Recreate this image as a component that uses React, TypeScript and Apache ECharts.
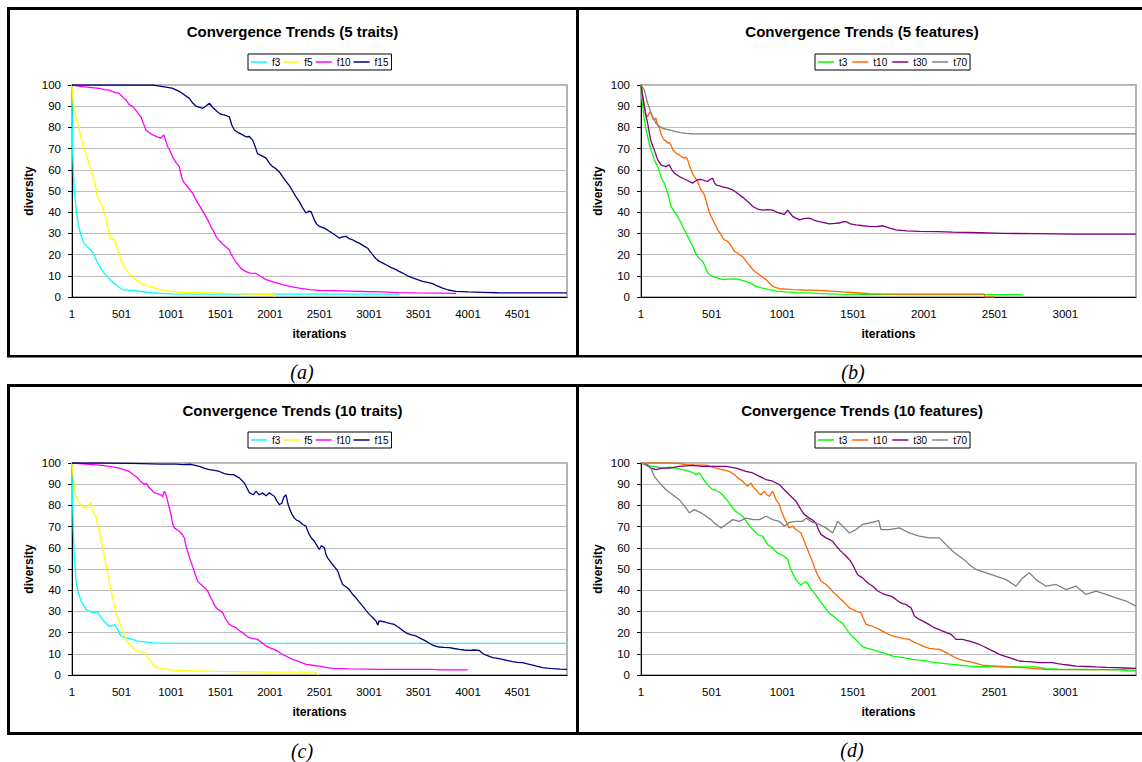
import React, { useEffect, useRef } from "react";
import * as echarts from "echarts";

type Pt = [number, number];

// ---------- labels ----------
const panelTitles = [
  "Convergence Trends (5 traits)",
  "Convergence Trends (5 features)",
  "Convergence Trends (10 traits)",
  "Convergence Trends (10 features)",
];
const panelCaptions = ["(a)", "(b)", "(c)", "(d)"];
const panelXMax = [5000, 3500, 5000, 3500]; // iterations shown (axis starts at iteration 1)
const xTickStep = 500;
const yMin = 0;
const yMax = 100;
const yTickStep = 10;
const xAxisName = "iterations";
const yAxisName = "diversity";

const traitNames = ["f3", "f5", "f10", "f15"];
const featureNames = ["t3", "t10", "t30", "t70"];
const traitColors = ["#00ffff", "#ffff00", "#ff00ff", "#000080"];
const featureColors = ["#00ff00", "#ff6600", "#800080", "#808080"];

// ---------- data: [iteration - 1, diversity] ----------
// (a) 5 traits
const a_f3: Pt[] = [[0,100],[5,70],[15,57],[25,49],[45,40],[65,34],[90,29],[120,25.5],[150,24],[180,22.5],[210,21],[250,17],[290,13.5],[330,11],[370,9],[410,7],[450,5.5],[490,4],[520,3.4],[600,3.1],[700,2.6],[800,2],[900,1.7],[1000,1.5],[1500,1.4],[2000,1.4],[2500,1.4],[3000,1.4],[3310,1.4]];
const a_f5: Pt[] = [[0,100],[13,90],[57,82],[108,72],[158,65],[192,60],[226,55],[259,47],[293,44],[327,40],[360,33],[394,27],[420,27.5],[444,25],[470,21],[500,17],[540,13],[570,11.5],[596,10],[646,8],[680,7],[714,6],[760,5.3],[815,4.7],[880,3.6],[949,3],[1030,2.5],[1118,2.2],[1300,2],[1455,1.9],[1700,1.5],[2040,1.1],[2046,0]];
const a_f10: Pt[] = [[0,100],[50,99.6],[108,99.2],[200,98.8],[276,98.4],[330,97.8],[377,97.6],[430,96.5],[478,96],[520,94],[545,93],[579,90.6],[610,90],[646,88],[670,86.5],[697,85],[720,82],[747,78.8],[780,77.5],[815,76.5],[860,75.5],[899,75],[926,76.5],[945,74],[966,71],[990,69],[1017,66],[1050,63.5],[1084,61.5],[1100,58],[1118,55],[1140,53.5],[1168,52],[1190,50.5],[1219,49],[1245,46.5],[1269,44.5],[1295,42.5],[1320,40.5],[1345,38.5],[1370,36.4],[1390,34.5],[1404,33],[1430,31],[1455,28.6],[1490,26.5],[1522,25],[1560,23.5],[1589,22.3],[1605,20.5],[1623,19],[1655,16.5],[1690,14.4],[1720,13],[1758,12],[1800,11.3],[1859,11.1],[1910,9.7],[1960,8.2],[2040,7],[2128,5.8],[2210,4.9],[2296,4.2],[2400,3.5],[2498,3.1],[2650,3],[2801,2.8],[2950,2.6],[3138,2.4],[3300,2.1],[3475,1.9],[3700,1.8],[3879,1.7]];
const a_f15: Pt[] = [[0,100],[300,100],[600,100],[815,100],[882,99.5],[949,99],[1010,98.5],[1084,97],[1130,95.5],[1185,93.7],[1220,91.5],[1253,90],[1290,89.5],[1320,89],[1350,90],[1387,91.4],[1420,89.5],[1455,88],[1490,86.5],[1522,86],[1560,85.5],[1589,85],[1615,81],[1640,78.8],[1680,77.5],[1724,76.5],[1760,75.5],[1791,75.7],[1825,74],[1850,71],[1875,67.5],[1910,66.8],[1960,65.5],[1995,63],[2027,61.5],[2060,60.5],[2094,59],[2130,56.5],[2162,54.5],[2195,52.5],[2229,50],[2260,47.5],[2296,45],[2330,42],[2364,39.6],[2395,40.5],[2414,40.3],[2448,36.4],[2470,34.5],[2498,33.3],[2550,32.5],[2599,31],[2650,29.5],[2700,27.8],[2740,28.5],[2768,28.6],[2800,27.5],[2835,27],[2870,26],[2902,25.4],[2950,24],[2987,23],[3010,21.5],[3037,20],[3070,18],[3104,16.8],[3140,16],[3172,15.2],[3220,14],[3273,12.9],[3300,12.2],[3340,11.3],[3390,10],[3441,9],[3490,8.2],[3542,7.4],[3590,6.9],[3643,6.3],[3690,5.2],[3744,4.2],[3800,3.3],[3879,2.7],[4000,2.4],[4148,2.2],[4300,2],[4485,1.9],[4700,1.9],[5000,1.9]];

// (b) 5 features
const b_t3: Pt[] = [[0,100],[3,95],[12,90],[24,83.5],[35,79],[47,75.7],[60,72],[71,69.4],[94,64.7],[118,61.5],[141,56.8],[152,55],[165,53.7],[189,49],[200,46],[212,42.7],[236,40.3],[259,38],[283,34.9],[306,31.7],[330,28.6],[365,23.9],[380,21.5],[401,19],[436,16.8],[455,14],[471,11.3],[507,9.7],[540,9],[577,8.2],[620,8.4],[672,8.5],[710,8],[742,7.4],[780,6.3],[813,5],[860,4.2],[907,3.5],[960,2.8],[1025,2.4],[1100,2.1],[1190,1.9],[1280,1.6],[1379,1.4],[1600,1.2],[1850,1.1],[2100,1.1],[2321,1.1],[2500,1.1],[2699,1.1]];
const b_t10: Pt[] = [[0,100],[10,96],[24,90],[35,86],[47,85],[60,87],[71,86.7],[85,84],[94,83.5],[105,84.5],[118,81],[130,80],[141,77],[155,75],[165,74],[180,73.5],[189,72.5],[200,73],[212,71.7],[225,69.5],[236,68.6],[255,67.5],[271,67],[290,66],[306,65.5],[318,66],[330,64.7],[342,62],[354,60],[366,58],[377,56.8],[390,55.5],[401,54.5],[412,52.5],[424,50.5],[436,49.5],[448,48.2],[460,45.5],[471,42.7],[483,40],[495,38],[507,36.5],[519,34.9],[530,33.5],[542,31.7],[555,30.5],[566,29.4],[578,28],[589,27],[607,26.5],[625,25.4],[643,23.5],[660,21.5],[678,21],[695,20],[707,19.6],[719,19],[736,17.5],[754,16],[772,14.5],[790,12.9],[813,11.7],[837,10.5],[860,9.3],[884,8.2],[907,6.6],[931,5],[955,4.4],[978,3.9],[1025,3.7],[1072,3.5],[1150,3.3],[1261,3.1],[1340,2.8],[1426,2.4],[1520,2],[1614,1.6],[1700,1.5],[1850,1.4],[2000,1.4],[2200,1.4],[2428,1.4],[2432,0],[2499,0]];
const b_t30: Pt[] = [[0,100],[12,94.5],[31,86.7],[47,82],[60,77],[71,73.3],[94,69.4],[118,64.7],[141,62.3],[160,61.8],[177,61.5],[200,62.3],[218,60],[236,58.4],[271,56.8],[295,56],[318,55.3],[342,54.5],[365,53.7],[380,54.5],[401,55.3],[420,55.5],[436,55.3],[455,54.8],[471,54.5],[490,55.5],[507,56],[518,54],[530,52.9],[577,52],[610,51.5],[648,50.5],[670,49.5],[695,48.2],[720,47],[742,45.8],[765,44.5],[790,42.7],[825,41.5],[860,41],[895,41.2],[931,41],[955,40.2],[978,39.6],[1013,39],[1037,41],[1055,39.5],[1072,38],[1095,37.2],[1119,36.4],[1150,37],[1190,37.2],[1225,36.2],[1261,35.6],[1300,35],[1332,34.5],[1370,34.7],[1402,34.9],[1430,35.5],[1449,35.6],[1480,34.5],[1520,34],[1570,33.6],[1614,33.3],[1660,33.2],[1709,33.6],[1760,32.5],[1803,31.7],[1880,31.2],[1968,31],[2100,30.8],[2203,30.6],[2400,30.3],[2557,30],[2800,29.9],[3029,29.7],[3300,29.7],[3500,29.7]];
const b_t70: Pt[] = [[0,100],[10,99],[24,97.6],[35,94.5],[47,91.4],[60,89],[71,86.7],[90,84],[106,82],[130,80.5],[153,79.6],[175,79.2],[200,78.8],[225,78.4],[247,78],[280,77.5],[318,77.2],[365,77],[500,76.9],[1000,76.9],[1500,76.9],[2000,76.9],[2500,76.9],[3000,76.9],[3500,76.9]];

// (c) 10 traits
const c_f3: Pt[] = [[0,100],[3,90],[8,78],[13,68],[24,55],[40,45],[57,40],[91,35],[120,32.5],[141,31],[175,30],[209,29.5],[240,29.5],[259,29.8],[293,27],[320,25.5],[343,24.5],[377,23],[400,23],[428,23.9],[445,22.5],[461,21.5],[480,19.5],[495,18.4],[545,17.6],[613,16.8],[660,16],[714,15.7],[815,15.2],[949,14.9],[1500,14.9],[2000,14.9],[3000,14.9],[4000,14.9],[5000,14.9]];
const c_f5: Pt[] = [[0,100],[13,93],[34,85],[57,82],[91,80.4],[125,78.8],[158,79.6],[192,81.2],[209,77],[242,74.9],[259,71],[276,67.8],[310,60],[343,52],[377,44.3],[411,36.4],[444,29],[478,25],[512,21],[545,17],[570,15],[596,13.7],[630,12],[663,11.3],[700,11],[731,10.5],[760,8.5],[781,7.4],[810,5.5],[832,4.2],[870,3.5],[916,3.1],[980,2.6],[1050,2.2],[1150,2],[1286,1.9],[1450,1.7],[1623,1.6],[1800,1.5],[1960,1.4],[2200,1.4],[2448,1.4],[2490,0]];
const c_f10: Pt[] = [[0,100],[141,99.5],[276,99],[377,98.4],[478,97.6],[579,96],[620,94.5],[663,93],[700,91],[731,89.8],[750,90.5],[781,88.3],[810,87],[832,85.9],[860,85.5],[899,85],[915,84],[933,86.7],[950,85],[966,82],[985,78.5],[1000,75.7],[1015,71.5],[1034,69.4],[1060,68.5],[1084,67.8],[1110,66.5],[1135,64.7],[1150,61],[1168,58.4],[1190,55],[1219,51],[1245,47.5],[1269,44.3],[1295,43],[1320,42],[1345,41],[1370,39.6],[1395,37],[1421,34.9],[1445,32.5],[1471,31],[1495,30.5],[1522,29.4],[1550,26.5],[1589,23.9],[1620,23],[1657,22.3],[1690,21],[1724,19.9],[1760,18.5],[1791,17.6],[1830,17.2],[1875,16.8],[1920,15.2],[1960,13.7],[2000,12.8],[2044,12.1],[2085,11],[2128,9.7],[2180,8.5],[2229,7.4],[2300,6.2],[2364,5],[2430,4.6],[2498,4.2],[2560,3.6],[2633,3.1],[2800,2.9],[2970,2.8],[3150,2.7],[3306,2.7],[3500,2.7],[3643,2.7],[3710,2.4],[3997,2.4]];
const c_f15: Pt[] = [[0,100],[300,100],[600,99.8],[900,99.5],[1050,99.5],[1118,99.2],[1200,99.4],[1286,98.4],[1340,97.5],[1387,96.9],[1440,96.5],[1488,96],[1540,95],[1589,94.5],[1630,94.5],[1690,93],[1741,90.6],[1770,88],[1791,86],[1830,85],[1859,86.7],[1890,85],[1926,85.9],[1960,84.5],[1993,86],[2020,85],[2044,84.3],[2070,82],[2094,80.4],[2120,81],[2140,84],[2162,85],[2180,81],[2195,78.8],[2220,76],[2246,74],[2270,73],[2296,72.5],[2330,71],[2364,70.2],[2380,68],[2397,66.2],[2420,64.5],[2448,63.1],[2475,61],[2498,59.2],[2520,61],[2549,60],[2565,57],[2582,55.3],[2610,53.5],[2633,52],[2660,50.5],[2684,49],[2710,45.5],[2734,42.7],[2770,41.5],[2801,40.3],[2835,38],[2869,36.4],[2900,34.5],[2936,32.5],[2970,30.5],[3003,28.6],[3040,27],[3071,25.4],[3090,23.5],[3100,25.5],[3121,25.4],[3160,25],[3189,24.6],[3220,24.2],[3256,23.9],[3280,23],[3306,22.3],[3340,21],[3374,19.9],[3420,19],[3475,18.4],[3520,17.3],[3576,16],[3610,15],[3643,14.1],[3680,13.5],[3710,13.2],[3760,13],[3811,12.9],[3860,12.5],[3912,12.1],[3960,11.8],[4013,11.6],[4060,11.8],[4114,11.6],[4140,10.5],[4165,9.7],[4210,8.9],[4249,8.2],[4300,7.8],[4350,7.4],[4400,6.8],[4451,6.3],[4500,6],[4552,5.8],[4600,5.2],[4653,4.7],[4700,4.1],[4754,3.5],[4800,3.2],[4855,3],[4930,2.8],[5000,2.7]];

// (d) 10 features
const d_t3: Pt[] = [[0,100],[40,99],[82,98.4],[120,98],[153,97.6],[200,98],[247,97.6],[270,97.2],[295,96.9],[320,96.5],[342,96],[365,95.5],[389,94.5],[412,95.3],[436,93],[455,91],[471,89.8],[490,88.5],[507,87.4],[525,87.5],[542,86.7],[560,86],[577,85],[595,83.5],[613,82],[630,80.5],[648,78.8],[665,77.5],[684,76.5],[700,75.8],[719,74.9],[737,73.2],[754,71.7],[772,70],[790,68.6],[808,67.5],[825,66.2],[843,65.8],[860,65.5],[878,63.5],[896,61.5],[913,60.8],[931,60],[950,58.5],[966,57.6],[985,57],[1002,56.5],[1020,55.5],[1037,54.5],[1050,51.5],[1061,49.5],[1080,47],[1096,45],[1113,43.5],[1131,42.5],[1150,43.5],[1167,44],[1180,43],[1190,41.7],[1208,40],[1226,38.6],[1244,37],[1261,35.4],[1278,33.8],[1296,32.3],[1314,30.5],[1332,29.1],[1355,28],[1379,26.8],[1400,25.5],[1426,24.4],[1450,22],[1473,19.7],[1497,18],[1520,16.6],[1545,14.8],[1567,13.4],[1600,12.6],[1638,12],[1670,11.3],[1709,10.5],[1745,9.7],[1780,8.9],[1815,8.5],[1850,8.2],[1885,7.8],[1921,7.4],[1960,7.1],[1992,6.9],[2040,6.3],[2086,5.8],[2150,5.4],[2204,5],[2260,4.6],[2322,4.2],[2380,4],[2440,3.9],[2500,3.8],[2557,3.8],[2620,3.8],[2675,3.8],[2740,3.8],[2793,3.8],[2864,3],[2950,2.8],[3029,2.7],[3150,2.6],[3264,2.5],[3382,2.4],[3453,1.9],[3500,2.2]];
const d_t10: Pt[] = [[0,100],[50,100],[106,100],[180,100],[247,100],[318,99.2],[389,99],[460,99],[530,97.6],[577,96.9],[625,96],[650,95],[672,93.7],[695,92.5],[719,91.4],[737,90],[754,89],[778,90.5],[795,88.5],[813,87.4],[830,86],[848,85],[872,86.7],[890,85],[907,84.3],[931,86.7],[955,82.7],[978,80.4],[990,78],[1002,75.7],[1013,74],[1025,72.5],[1037,71],[1049,69.4],[1072,70.2],[1096,68.6],[1113,67.8],[1131,67],[1143,65],[1155,63.1],[1166,61],[1178,59.2],[1190,57],[1202,55.3],[1220,52],[1237,49],[1255,46.5],[1273,44.3],[1290,43.5],[1308,42.7],[1325,41.5],[1343,40.3],[1360,39],[1379,38],[1400,36.5],[1426,34.9],[1450,33.3],[1473,31.7],[1497,30.9],[1520,30.1],[1540,29.7],[1556,29.4],[1570,27],[1591,23.9],[1615,23.4],[1638,23],[1660,22.3],[1685,21.5],[1708,20.7],[1732,19.9],[1755,19],[1780,18.4],[1805,18],[1827,17.6],[1860,17.2],[1897,16.8],[1930,15.5],[1968,14.4],[2000,13.5],[2039,12.6],[2075,12.3],[2110,12.1],[2145,11],[2180,9.7],[2215,8.5],[2251,7.4],[2285,6.8],[2322,6.3],[2370,5.5],[2416,4.7],[2460,4.4],[2510,4.2],[2560,4],[2605,3.8],[2650,3.6],[2699,3.5],[2750,3.2],[2793,3],[2850,2.7],[2911,2.5],[3029,2.5],[3150,2.5],[3264,2.5],[3400,2.7],[3500,3]];
const d_t30: Pt[] = [[0,100],[35,99.2],[71,97.6],[106,96.9],[153,97.6],[200,97.6],[271,98.4],[365,98.9],[436,98.4],[530,98.4],[601,98.4],[672,97.6],[742,96],[790,95.3],[837,93.7],[884,92.2],[931,91.4],[978,89.8],[1013,87.4],[1049,85],[1072,83.5],[1096,82],[1113,80],[1131,78],[1155,75.7],[1170,75],[1190,74],[1215,73],[1237,71.7],[1255,68.5],[1273,66.2],[1290,65.5],[1308,64.7],[1330,64],[1355,63.1],[1373,61.5],[1391,60],[1408,58.8],[1426,57.6],[1444,56.5],[1461,55.3],[1480,53.8],[1497,52],[1515,49.5],[1532,47.3],[1550,46.5],[1567,45.8],[1585,44.6],[1603,43.5],[1620,42.7],[1638,41.9],[1656,40.8],[1674,39.6],[1697,38.8],[1721,38],[1745,37.6],[1768,37.2],[1785,36.5],[1803,35.6],[1820,34.8],[1838,34],[1856,33.6],[1874,33.3],[1890,32.5],[1909,31.7],[1920,30],[1933,27.8],[1950,27],[1968,26.2],[1990,25.5],[2015,24.6],[2045,23.5],[2074,22.3],[2105,21.5],[2133,20.7],[2160,20],[2192,19.2],[2210,18],[2227,16.8],[2250,16.8],[2275,16.8],[2300,16.3],[2322,16],[2360,15.2],[2392,14.4],[2430,13.2],[2463,12.1],[2500,10.9],[2534,9.7],[2570,8.9],[2605,8.2],[2640,7.4],[2675,6.6],[2710,6.4],[2746,6.3],[2780,6.1],[2817,5.8],[2860,5.8],[2911,5.8],[2945,5.4],[2982,5],[3030,4.6],[3076,4.2],[3150,4],[3217,3.8],[3290,3.6],[3359,3.5],[3430,3.3],[3500,3.1]];
const d_t70: Pt[] = [[0,100],[47,99.2],[70,97.5],[94,93.7],[130,90.6],[177,87.4],[224,85],[271,82.7],[318,78.8],[342,76.5],[377,78],[424,76.5],[460,74.9],[495,73.3],[530,71],[566,69.4],[601,71],[648,73.3],[695,72.5],[742,74],[790,73.3],[837,73.3],[884,74.9],[931,73.3],[978,72.5],[1013,70.2],[1049,72],[1096,72.5],[1143,72.5],[1167,74],[1214,72],[1261,71],[1308,69.4],[1355,67],[1391,72.5],[1438,69.4],[1473,67],[1520,68.6],[1567,71],[1615,71.7],[1662,72.5],[1680,73],[1697,68.6],[1756,68.6],[1827,69.4],[1897,67],[1968,65.5],[2039,64.7],[2110,64.7],[2157,61.5],[2204,58.4],[2251,56],[2298,53.7],[2322,52],[2369,49.8],[2440,48.2],[2510,46.6],[2581,45],[2652,41.9],[2699,45.8],[2746,48.2],[2793,45],[2864,41.9],[2935,42.7],[3005,40.3],[3076,41.9],[3147,38],[3218,39.6],[3288,38],[3359,36.4],[3430,34.9],[3500,32.5]];

const panelSeries: Pt[][][] = [
  [a_f3, a_f5, a_f10, a_f15],
  [b_t3, b_t10, b_t30, b_t70],
  [c_f3, c_f5, c_f10, c_f15],
  [d_t3, d_t10, d_t30, d_t70],
];
const panelNames = [traitNames, featureNames, traitNames, featureNames];
const panelColors = [traitColors, featureColors, traitColors, featureColors];

// ---------- layout ----------
const SANS = '"Liberation Sans", Arial, Helvetica, sans-serif';
const SERIF = '"Liberation Serif", "Times New Roman", serif';
const grids = [
  { left: 72, top: 85, width: 495, height: 212 },
  { left: 641, top: 85, width: 495, height: 212 },
  { left: 72, top: 463, width: 495, height: 212 },
  { left: 641, top: 463, width: 495, height: 212 },
];
const titlePos = [[292.5, 31.5], [862, 31.5], [292.5, 410], [862, 410]];
const captionPos = [[302, 372], [853, 372], [302, 751], [852, 750]];
const legendPos = [
  { left: 248, top: 54, gap: 3 },
  { left: 815, top: 54, gap: 5 },
  { left: 248, top: 432, gap: 3 },
  { left: 815, top: 432, gap: 5 },
];

function buildOption() {
  const xAxis: any[] = [];
  const yAxis: any[] = [];
  const series: any[] = [];
  const legend: any[] = [];
  const graphic: any[] = [];

  grids.forEach((_, i) => {
    const max = panelXMax[i];
    xAxis.push({
      type: "value",
      gridIndex: i,
      min: 0,
      max,
      interval: xTickStep,
      axisLine: { show: true, lineStyle: { color: "#000", width: 1 } },
      axisTick: { show: false },
      splitLine: { show: false },
      axisLabel: {
        margin: 11,
        fontSize: 11.5,
        fontFamily: SANS,
        color: "#000",
        showMaxLabel: false,
        formatter: (v: number) => (v % xTickStep === 0 && v < max ? String(v + 1) : ""),
      },
      name: xAxisName,
      nameLocation: "middle",
      nameGap: 31,
      nameTextStyle: { fontSize: 12, fontWeight: "bold", fontFamily: SANS, color: "#000" },
    });
    yAxis.push({
      type: "value",
      gridIndex: i,
      min: yMin,
      max: yMax,
      interval: yTickStep,
      axisLine: { show: true, lineStyle: { color: "#000", width: 1 } },
      axisTick: { show: true, length: 4, lineStyle: { color: "#000" } },
      splitLine: { show: true, lineStyle: { color: "#bdbdbd", width: 1 } },
      axisLabel: { margin: 11, fontSize: 11.5, fontFamily: SANS, color: "#000" },
      name: yAxisName,
      nameLocation: "middle",
      nameGap: 37,
      nameRotate: 90,
      nameTextStyle: { fontSize: 12, fontWeight: "bold", fontFamily: SANS, color: "#000" },
    });
    panelSeries[i].forEach((data, k) => {
      series.push({
        type: "line",
        name: panelNames[i][k],
        xAxisIndex: i,
        yAxisIndex: i,
        data,
        symbol: "none",
        silent: true,
        lineStyle: { width: 1.3, color: panelColors[i][k] },
        itemStyle: { color: panelColors[i][k] },
      });
    });
    legend.push({
      left: legendPos[i].left,
      top: legendPos[i].top,
      orient: "horizontal",
      data: panelNames[i].map((n) => ({ name: n, icon: "rect" })),
      selectedMode: false,
      itemWidth: 16,
      itemHeight: 1.5,
      itemGap: legendPos[i].gap,
      padding: [3, 3],
      borderColor: "#000",
      borderWidth: 1,
      backgroundColor: "#fff",
      textStyle: { fontSize: 10, fontFamily: SANS, color: "#000" },
    });
    graphic.push({
      type: "text",
      x: titlePos[i][0],
      y: titlePos[i][1],
      style: {
        text: panelTitles[i],
        align: "center",
        verticalAlign: "middle",
        fontSize: 15,
        fontWeight: "bold",
        fontFamily: SANS,
        fill: "#000",
      },
    });
    graphic.push({
      type: "text",
      x: captionPos[i][0],
      y: captionPos[i][1],
      style: {
        text: panelCaptions[i],
        align: "center",
        verticalAlign: "middle",
        fontSize: 20,
        fontStyle: "italic",
        fontFamily: SERIF,
        fill: "#000",
      },
    });
  });

  // panel frames
  const frames = [
    [7, 7, 1135, 3],
    [7, 355, 1135, 2.5],
    [7, 7, 3, 350],
    [576, 7, 3, 350],
    [7, 384, 1135, 3],
    [7, 732, 1135, 3],
    [7, 384, 3, 351],
    [576, 384, 3, 351],
  ];
  frames.forEach(([x, y, w, h]) => {
    graphic.push({ type: "rect", shape: { x, y, width: w, height: h }, style: { fill: "#000" } });
  });

  return {
    animation: false,
    backgroundColor: "#fff",
    grid: grids.map((g) => ({ ...g, show: true, borderColor: "#9a9a9a", borderWidth: 1.5, backgroundColor: "#fff" })),
    xAxis,
    yAxis,
    legend,
    series,
    graphic,
  };
}

export default function App() {
  const ref = useRef<HTMLDivElement>(null);
  useEffect(() => {
    if (!ref.current) return;
    const chart = echarts.init(ref.current, undefined, { renderer: "svg" });
    chart.setOption(buildOption() as any);
    return () => chart.dispose();
  }, []);
  return (
    <div
      ref={ref}
      style={{ position: "absolute", left: 0, top: 0, width: 1142, height: 762, background: "#fff" }}
    />
  );
}
